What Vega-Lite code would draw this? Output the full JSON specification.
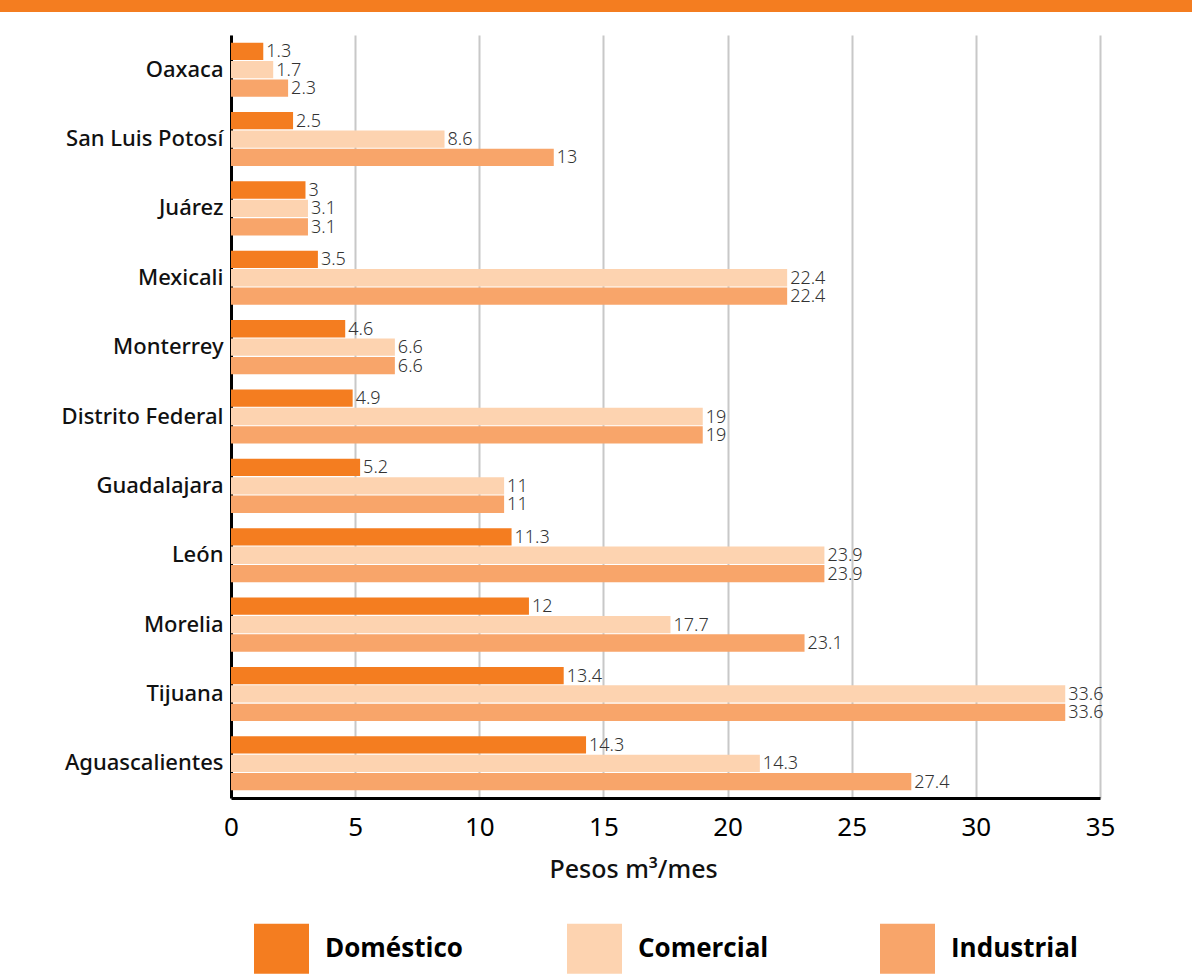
{
  "$schema": "https://vega.github.io/schema/vega-lite/v6.json",
  "background": "white",
  "padding": 0,
  "spacing": 23,
  "bounds": "full",
  "config": {"view": {"stroke": null}},
  "vconcat": [
    {
      "width": 961,
      "height": 12,
      "data": {"values": [{"desde": -231, "hasta": 961}]},
      "mark": {"type": "rect", "color": "#F47D20", "clip": false},
      "encoding": {
        "x": {"field": "desde", "type": "quantitative", "scale": {"domain": [0, 961], "nice": false, "zero": false}, "axis": null},
        "x2": {"field": "hasta"}
      }
    },
    {
      "width": 869,
      "height": 763,
      "data": {
        "values": [
          {"ciudad": "Oaxaca", "tipo": "Doméstico", "valor": 1.3, "etiqueta": "1.3"},
          {"ciudad": "Oaxaca", "tipo": "Comercial", "valor": 1.7, "etiqueta": "1.7"},
          {"ciudad": "Oaxaca", "tipo": "Industrial", "valor": 2.3, "etiqueta": "2.3"},
          {"ciudad": "San Luis Potosí", "tipo": "Doméstico", "valor": 2.5, "etiqueta": "2.5"},
          {"ciudad": "San Luis Potosí", "tipo": "Comercial", "valor": 8.6, "etiqueta": "8.6"},
          {"ciudad": "San Luis Potosí", "tipo": "Industrial", "valor": 13, "etiqueta": "13"},
          {"ciudad": "Juárez", "tipo": "Doméstico", "valor": 3, "etiqueta": "3"},
          {"ciudad": "Juárez", "tipo": "Comercial", "valor": 3.1, "etiqueta": "3.1"},
          {"ciudad": "Juárez", "tipo": "Industrial", "valor": 3.1, "etiqueta": "3.1"},
          {"ciudad": "Mexicali", "tipo": "Doméstico", "valor": 3.5, "etiqueta": "3.5"},
          {"ciudad": "Mexicali", "tipo": "Comercial", "valor": 22.4, "etiqueta": "22.4"},
          {"ciudad": "Mexicali", "tipo": "Industrial", "valor": 22.4, "etiqueta": "22.4"},
          {"ciudad": "Monterrey", "tipo": "Doméstico", "valor": 4.6, "etiqueta": "4.6"},
          {"ciudad": "Monterrey", "tipo": "Comercial", "valor": 6.6, "etiqueta": "6.6"},
          {"ciudad": "Monterrey", "tipo": "Industrial", "valor": 6.6, "etiqueta": "6.6"},
          {"ciudad": "Distrito Federal", "tipo": "Doméstico", "valor": 4.9, "etiqueta": "4.9"},
          {"ciudad": "Distrito Federal", "tipo": "Comercial", "valor": 19, "etiqueta": "19"},
          {"ciudad": "Distrito Federal", "tipo": "Industrial", "valor": 19, "etiqueta": "19"},
          {"ciudad": "Guadalajara", "tipo": "Doméstico", "valor": 5.2, "etiqueta": "5.2"},
          {"ciudad": "Guadalajara", "tipo": "Comercial", "valor": 11, "etiqueta": "11"},
          {"ciudad": "Guadalajara", "tipo": "Industrial", "valor": 11, "etiqueta": "11"},
          {"ciudad": "León", "tipo": "Doméstico", "valor": 11.3, "etiqueta": "11.3"},
          {"ciudad": "León", "tipo": "Comercial", "valor": 23.9, "etiqueta": "23.9"},
          {"ciudad": "León", "tipo": "Industrial", "valor": 23.9, "etiqueta": "23.9"},
          {"ciudad": "Morelia", "tipo": "Doméstico", "valor": 12, "etiqueta": "12"},
          {"ciudad": "Morelia", "tipo": "Comercial", "valor": 17.7, "etiqueta": "17.7"},
          {"ciudad": "Morelia", "tipo": "Industrial", "valor": 23.1, "etiqueta": "23.1"},
          {"ciudad": "Tijuana", "tipo": "Doméstico", "valor": 13.4, "etiqueta": "13.4"},
          {"ciudad": "Tijuana", "tipo": "Comercial", "valor": 33.6, "etiqueta": "33.6"},
          {"ciudad": "Tijuana", "tipo": "Industrial", "valor": 33.6, "etiqueta": "33.6"},
          {"ciudad": "Aguascalientes", "tipo": "Doméstico", "valor": 14.3, "etiqueta": "14.3"},
          {"ciudad": "Aguascalientes", "tipo": "Comercial", "valor": 21.3, "etiqueta": "14.3"},
          {"ciudad": "Aguascalientes", "tipo": "Industrial", "valor": 27.4, "etiqueta": "27.4"}
        ]
      },
      "encoding": {
        "y": {
          "field": "ciudad",
          "type": "nominal",
          "sort": null,
          "scale": {"paddingInner": 0.22, "paddingOuter": 0.11},
          "axis": {
            "title": "\u00a0",
            "titleFontSize": 1,
            "titlePadding": 60,
            "labelFont": "Noto Sans",
            "labelFontSize": 22,
            "labelFontWeight": 500,
            "labelColor": "#111111",
            "labelPadding": 8,
            "ticks": false,
            "domainColor": "#000000",
            "domainWidth": 3,
            "grid": false
          }
        },
        "yOffset": {
          "field": "tipo",
          "type": "nominal",
          "sort": ["Doméstico", "Comercial", "Industrial"],
          "scale": {"paddingInner": 0.06}
        },
        "x": {
          "field": "valor",
          "type": "quantitative",
          "scale": {"domain": [0, 35], "nice": false},
          "axis": {
            "values": [0, 5, 10, 15, 20, 25, 30, 35],
            "title": "Pesos m³/mes",
            "titleFont": "Noto Sans",
            "titleFontSize": 25,
            "titleFontWeight": 500,
            "titleColor": "#111111",
            "titlePadding": 17,
            "titleX": 318,
            "titleAlign": "left",
            "labelFont": "Noto Sans",
            "labelFontSize": 26,
            "labelColor": "#000000",
            "labelPadding": 16,
            "labelFlush": false,
            "ticks": false,
            "domainColor": "#000000",
            "domainWidth": 3,
            "grid": true,
            "gridColor": "#c8c8c8",
            "gridWidth": 2
          }
        }
      },
      "layer": [
        {
          "mark": {"type": "bar"},
          "encoding": {
            "color": {
              "field": "tipo",
              "type": "nominal",
              "sort": ["Doméstico", "Comercial", "Industrial"],
              "scale": {
                "domain": ["Doméstico", "Comercial", "Industrial"],
                "range": ["#F47D20", "#FDD3B0", "#F8A56A"]
              },
              "legend": {
                "title": null,
                "orient": "none",
                "legendX": 23,
                "legendY": 921,
                "direction": "horizontal",
                "columns": 3,
                "gridAlign": "all",
                "columnPadding": 104,
                "symbolType": "M-1,-0.91H1V0.91H-1Z",
                "symbolSize": 3025,
                "symbolStrokeWidth": 0,
                "symbolOpacity": 1,
                "labelFont": "Open Sans",
                "labelFontSize": 26,
                "labelFontWeight": "bold",
                "labelColor": "#000000",
                "labelOffset": 16
              }
            }
          }
        },
        {
          "mark": {
            "type": "text",
            "align": "left",
            "baseline": "middle",
            "dx": 3,
            "dy": 1,
            "font": "Noto Sans",
            "fontSize": 18,
            "fontWeight": 300,
            "color": "#333333"
          },
          "encoding": {"text": {"field": "etiqueta"}}
        }
      ]
    }
  ]
}
